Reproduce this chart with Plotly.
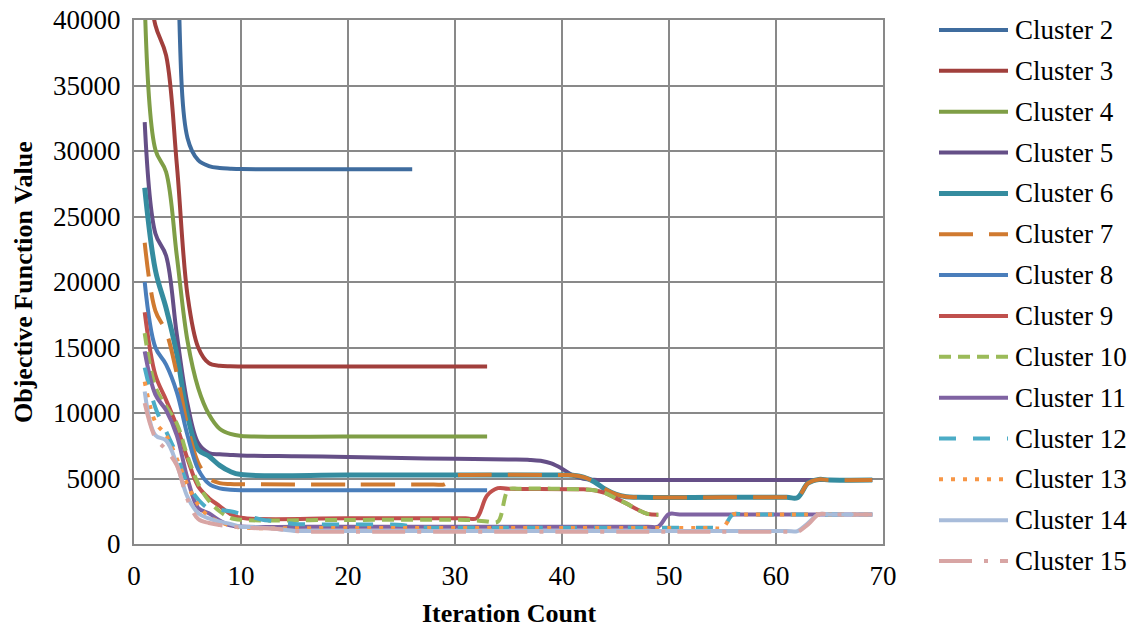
import plotly.graph_objects as go

# ---------------- data ----------------
names = ["Cluster 2", "Cluster 3", "Cluster 4", "Cluster 5", "Cluster 6", "Cluster 7", "Cluster 8",
         "Cluster 9", "Cluster 10", "Cluster 11", "Cluster 12", "Cluster 13", "Cluster 14", "Cluster 15"]

it_c2 = [1, 2, 3, 4, 5, 6, 7, 8, 9, 10, 15, 20, 26]
obj_c2 = [95000, 78000, 62000, 46000, 31000, 29300, 28850, 28700, 28650, 28620, 28600, 28600, 28600]

it_c3 = [1, 2, 3, 4, 5, 6, 7, 8, 9, 10, 20, 33]
obj_c3 = [45000, 39600, 37300, 29000, 19000, 15000, 13800, 13600, 13560, 13550, 13550, 13550]

it_c4 = [1, 2, 3, 4, 5, 6, 7, 8, 9, 10, 20, 33]
obj_c4 = [41500, 30100, 28400, 22000, 15500, 11900, 9900, 8800, 8400, 8250, 8200, 8200]

it_c5 = [1, 2, 3, 4, 5, 6, 7, 8, 9, 10, 15, 20, 25, 30, 35, 37, 38, 39, 40, 41, 42, 43, 44, 55, 69]
obj_c5 = [32200, 23700, 22000, 16000, 10700, 7700, 6950, 6850, 6800, 6760, 6700, 6650, 6560, 6500, 6450,
          6420, 6350, 6150, 5750, 5250, 4980, 4900, 4880, 4880, 4880]

it_c6 = [1, 2, 3, 4, 5, 6, 7, 8, 9, 10, 20, 30, 40, 41, 42, 43, 44, 45, 46, 47, 55, 61, 62, 63, 64, 65, 69]
obj_c6 = [27200, 20900, 18000, 14500, 9800, 7200, 6700, 6000, 5530, 5300, 5260, 5260, 5260, 5250, 5100,
          4750, 4200, 3800, 3600, 3560, 3560, 3560, 3540, 4650, 4930, 4880, 4880]

it_c7 = [1, 2, 3, 4, 5, 6, 7, 8, 9, 10, 20, 28, 29, 30, 31, 40, 41, 42, 43, 44, 45, 46, 47, 55, 61, 62,
         63, 64, 65, 69]
obj_c7 = [23000, 17800, 16200, 13000, 9000, 6200, 5000, 4650, 4580, 4560, 4550, 4550, 4550, 5200, 5260,
          5260, 5250, 5100, 4750, 4200, 3800, 3600, 3560, 3560, 3560, 3540, 4650, 4930, 4880, 4880]

it_c8 = [1, 2, 3, 4, 5, 6, 7, 8, 9, 10, 20, 33]
obj_c8 = [20000, 15000, 13700, 11600, 8300, 5700, 4600, 4250, 4150, 4110, 4100, 4100]

it_c9 = [1, 2, 3, 4, 5, 6, 7, 8, 9, 10, 20, 31, 32, 33, 34, 35, 42, 43, 44, 45, 46, 47, 48, 49]
obj_c9 = [17700, 12900, 11000, 9000, 6500, 4400, 3500, 2900, 2300, 2000, 1960, 1960, 1960, 3700, 4260,
          4220, 4170, 4100, 3900, 3500, 3100, 2650, 2300, 2240]

it_c10 = [1, 2, 3, 4, 5, 6, 7, 8, 9, 10, 20, 31, 32, 33, 34, 35, 36, 42, 43, 44, 45, 46, 47, 48, 49]
obj_c10 = [16100, 12000, 10500, 9200, 6700, 4600, 3300, 2500, 2000, 1850, 1840, 1840, 1800, 1720, 1700,
           4150, 4220, 4170, 4100, 3900, 3500, 3100, 2650, 2300, 2240]

it_c11 = [1, 2, 3, 4, 5, 6, 7, 8, 9, 10, 20, 30, 40, 48, 49, 50, 51, 60, 69]
obj_c11 = [14700, 11400, 10200, 8300, 5000, 2750, 2350, 1800, 1420, 1330, 1320, 1320, 1320, 1320, 1330,
           2280, 2260, 2260, 2260]

it_c12 = [1, 2, 3, 4, 5, 6, 7, 8, 9, 10, 11, 12, 13, 14, 15, 16, 20, 24, 25, 26, 27, 35, 45, 54, 55, 56,
          57, 69]
obj_c12 = [13460, 10400, 8600, 6800, 4600, 3400, 2700, 2620, 2500, 2300, 2050, 1850, 1750, 1620, 1530,
           1500, 1490, 1490, 1450, 1330, 1270, 1250, 1250, 1250, 1250, 2270, 2260, 2260]

it_c13 = [1, 2, 3, 4, 5, 6, 7, 8, 9, 10, 20, 30, 40, 50, 54, 55, 56, 57, 69]
obj_c13 = [12400, 9300, 8300, 6500, 4500, 3000, 2100, 1700, 1400, 1260, 1220, 1220, 1220, 1220, 1220,
           1230, 2260, 2260, 2260]

it_c14 = [1, 2, 3, 4, 5, 6, 7, 8, 9, 10, 11, 12, 13, 14, 15, 16, 25, 40, 55, 61, 62, 63, 64, 65, 69]
obj_c14 = [11650, 8300, 7900, 6100, 3600, 2350, 1950, 1700, 1540, 1320, 1300, 1250, 1180, 1080, 1000,
           990, 990, 990, 990, 990, 990, 1600, 2280, 2260, 2260]

it_c15 = [1, 2, 3, 4, 5, 6, 7, 8, 9, 10, 11, 12, 13, 14, 15, 16, 25, 40, 55, 61, 62, 63, 64, 65, 69]
obj_c15 = [10750, 8100, 7200, 6000, 3400, 1900, 1600, 1450, 1350, 1250, 1220, 1200, 1170, 1100, 1000,
           950, 940, 940, 940, 940, 930, 1500, 2260, 2260, 2260]

iters = [it_c2, it_c3, it_c4, it_c5, it_c6, it_c7, it_c8, it_c9, it_c10, it_c11, it_c12, it_c13, it_c14, it_c15]
objs = [obj_c2, obj_c3, obj_c4, obj_c5, obj_c6, obj_c7, obj_c8, obj_c9, obj_c10, obj_c11, obj_c12, obj_c13,
        obj_c14, obj_c15]

x_ticks = [0, 10, 20, 30, 40, 50, 60, 70]
y_ticks = [0, 5000, 10000, 15000, 20000, 25000, 30000, 35000, 40000]

# ---------------- styles ----------------
colors = ["#3F6C9E", "#A13F3C", "#7F9E46", "#654F87", "#358C9F", "#D07A30", "#4A7EBB",
          "#C0504D", "#9BBB59", "#7F63A2", "#4BACC6", "#F79646", "#A8BCDA", "#D8A5A4"]
dashes = ["solid", "solid", "solid", "solid", "solid", "34px,16px", "solid",
          "solid", "12px,7px", "solid", "17px,17px", "4px,8px", "solid", "33px,12px,4px,12px"]
widths = [4, 4, 4, 4, 5, 4, 4, 4, 4, 4, 4, 4, 4, 4]

W, H = 1138, 627
L, R, T, B = 134, 883, 20, 544
FONT = "Liberation Serif, Times New Roman, serif"
GRID = "#898989"

fig = go.Figure()
for n, xs, ys, c, d, w in zip(names, iters, objs, colors, dashes, widths):
    fig.add_trace(go.Scatter(x=xs, y=ys, name=n, mode="lines",
                             line=dict(color=c, width=w, dash=d, shape="spline", smoothing=1.0),
                             showlegend=False))

# ---------------- custom legend (long line samples like the original) ----------------
def px_to_paper_x(px):
    return (px - L) / (R - L)

def px_to_paper_y(py):
    return (B - py) / (B - T)

leg_top, leg_step = 30, 40.85
for i, (n, c, d, w) in enumerate(zip(names, colors, dashes, widths)):
    yc = px_to_paper_y(leg_top + i * leg_step)
    fig.add_shape(type="line", xref="paper", yref="paper",
                  x0=px_to_paper_x(939), x1=px_to_paper_x(1008), y0=yc, y1=yc,
                  line=dict(color=c, width=w, dash=d))
    fig.add_annotation(xref="paper", yref="paper", x=px_to_paper_x(1013), y=yc,
                       xanchor="left", yanchor="middle", text=n, showarrow=False,
                       font=dict(family=FONT, size=27, color="black"))

# axis titles
fig.add_annotation(xref="paper", yref="paper", x=px_to_paper_x(23), y=0.5,
                   text="<b>Objective Function Value</b>", textangle=-90, showarrow=False,
                   xanchor="center", yanchor="middle", font=dict(family=FONT, size=26, color="black"))
fig.add_annotation(xref="paper", yref="paper", x=0.5, y=px_to_paper_y(613),
                   text="<b>Iteration Count</b>", showarrow=False,
                   xanchor="center", yanchor="middle", font=dict(family=FONT, size=26, color="black"))

fig.update_layout(
    width=W, height=H,
    margin=dict(l=L, r=W - R, t=T, b=H - B, autoexpand=False),
    paper_bgcolor="white", plot_bgcolor="white",
    showlegend=False,
    font=dict(family=FONT, size=27, color="black"),
)
fig.update_xaxes(range=[0, 70], tickvals=x_ticks, ticktext=[str(v) for v in x_ticks], automargin=False,
                 showgrid=True, gridcolor=GRID, gridwidth=2, zeroline=False,
                 showline=True, linecolor=GRID, linewidth=2, mirror=True,
                 ticks="", ticklabelstandoff=7, tickfont=dict(family=FONT, size=27, color="black"))
fig.update_yaxes(range=[0, 40000], tickvals=y_ticks, ticktext=[str(v) for v in y_ticks], automargin=False,
                 showgrid=True, gridcolor=GRID, gridwidth=2, zeroline=False,
                 showline=True, linecolor=GRID, linewidth=2, mirror=True,
                 ticks="", ticklabelstandoff=6, tickfont=dict(family=FONT, size=27, color="black"))

fig.write_html("out.html")
